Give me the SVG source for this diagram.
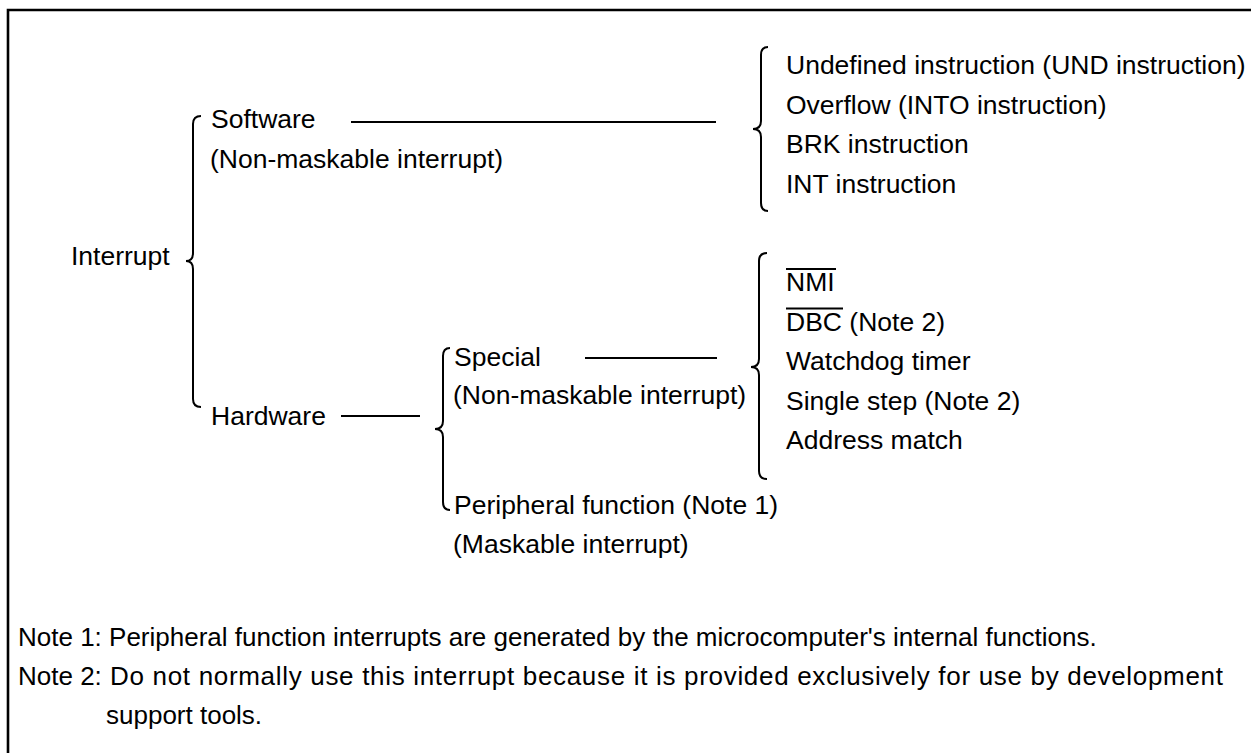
<svg xmlns="http://www.w3.org/2000/svg" width="1251" height="753" viewBox="0 0 1251 753">
<style>
text{font-family:"Liberation Sans",Arial,sans-serif;font-size:26.5px;fill:#000}
text.note{font-size:26px}
.ln{stroke:#000;stroke-width:2;fill:none}
.br{stroke:#000;stroke-width:2;fill:none}
</style>
<rect width="1251" height="753" fill="#fff"/>
<path d="M8,753 V10 H1251" fill="none" stroke="#000" stroke-width="2.6"/>
<g id="interrupt"><text x="71" y="265">Interrupt</text></g>
<g id="software"><text x="211" y="128">Software</text><text x="210" y="168">(Non-maskable interrupt)</text></g>
<g id="hardware"><text x="211" y="425">Hardware</text></g>
<g id="special"><text x="454" y="366">Special</text><text x="453" y="404">(Non-maskable interrupt)</text></g>
<g id="peripheral"><text x="454" y="514">Peripheral function (Note 1)</text><text x="453" y="553">(Maskable interrupt)</text></g>
<g id="software-items">
<text x="786" y="74">Undefined instruction (UND instruction)</text>
<text x="786" y="113.5">Overflow (INTO instruction)</text>
<text x="786" y="153">BRK instruction</text>
<text x="786" y="192.5">INT instruction</text>
</g>
<g id="special-items">
<text x="786" y="291">NMI</text>
<line x1="786" y1="269" x2="836" y2="269" class="ln" stroke-width="1.5"/>
<text x="786" y="330.5">DBC (Note 2)</text>
<line x1="786" y1="308.5" x2="843" y2="308.5" class="ln" stroke-width="1.5"/>
<text x="786" y="370">Watchdog timer</text>
<text x="786" y="409.5">Single step (Note 2)</text>
<text x="786" y="449">Address match</text>
</g>
<g id="notes">
<text class="note" x="18" y="646">Note 1: Peripheral function interrupts are generated by the microcomputer's internal functions.</text>
<text class="note" y="685"><tspan x="18">Note 2:</tspan><tspan x="110" textLength="1113" lengthAdjust="spacing">Do not normally use this interrupt because it is provided exclusively for use by development</tspan></text>
<text class="note" x="106" y="724">support tools.</text>
</g>
<g id="connectors">
<path class="br" d="M201,116 Q193,116 193,124 V253 Q193,261 186,261 Q193,261 193,269 V399 Q193,407 201,407"/>
<path class="br" d="M450,348 Q443,348 443,356 V421 Q443,429 435,429 Q443,429 443,437 V502 Q443,510 450,510"/>
<path class="br" d="M767,253 Q759,253 759,261 V359 Q759,367 751,367 Q759,367 759,375 V471 Q759,479 767,479"/>
<path class="br" d="M768,47 Q761,47 761,55 V121 Q761,129 753,129 Q761,129 761,137 V203 Q761,211 768,211"/>
<line class="ln" x1="351" y1="122" x2="716" y2="122"/>
<line class="ln" x1="341" y1="416" x2="420" y2="416"/>
<line class="ln" x1="585" y1="358" x2="717" y2="358"/>
</g>
</svg>
